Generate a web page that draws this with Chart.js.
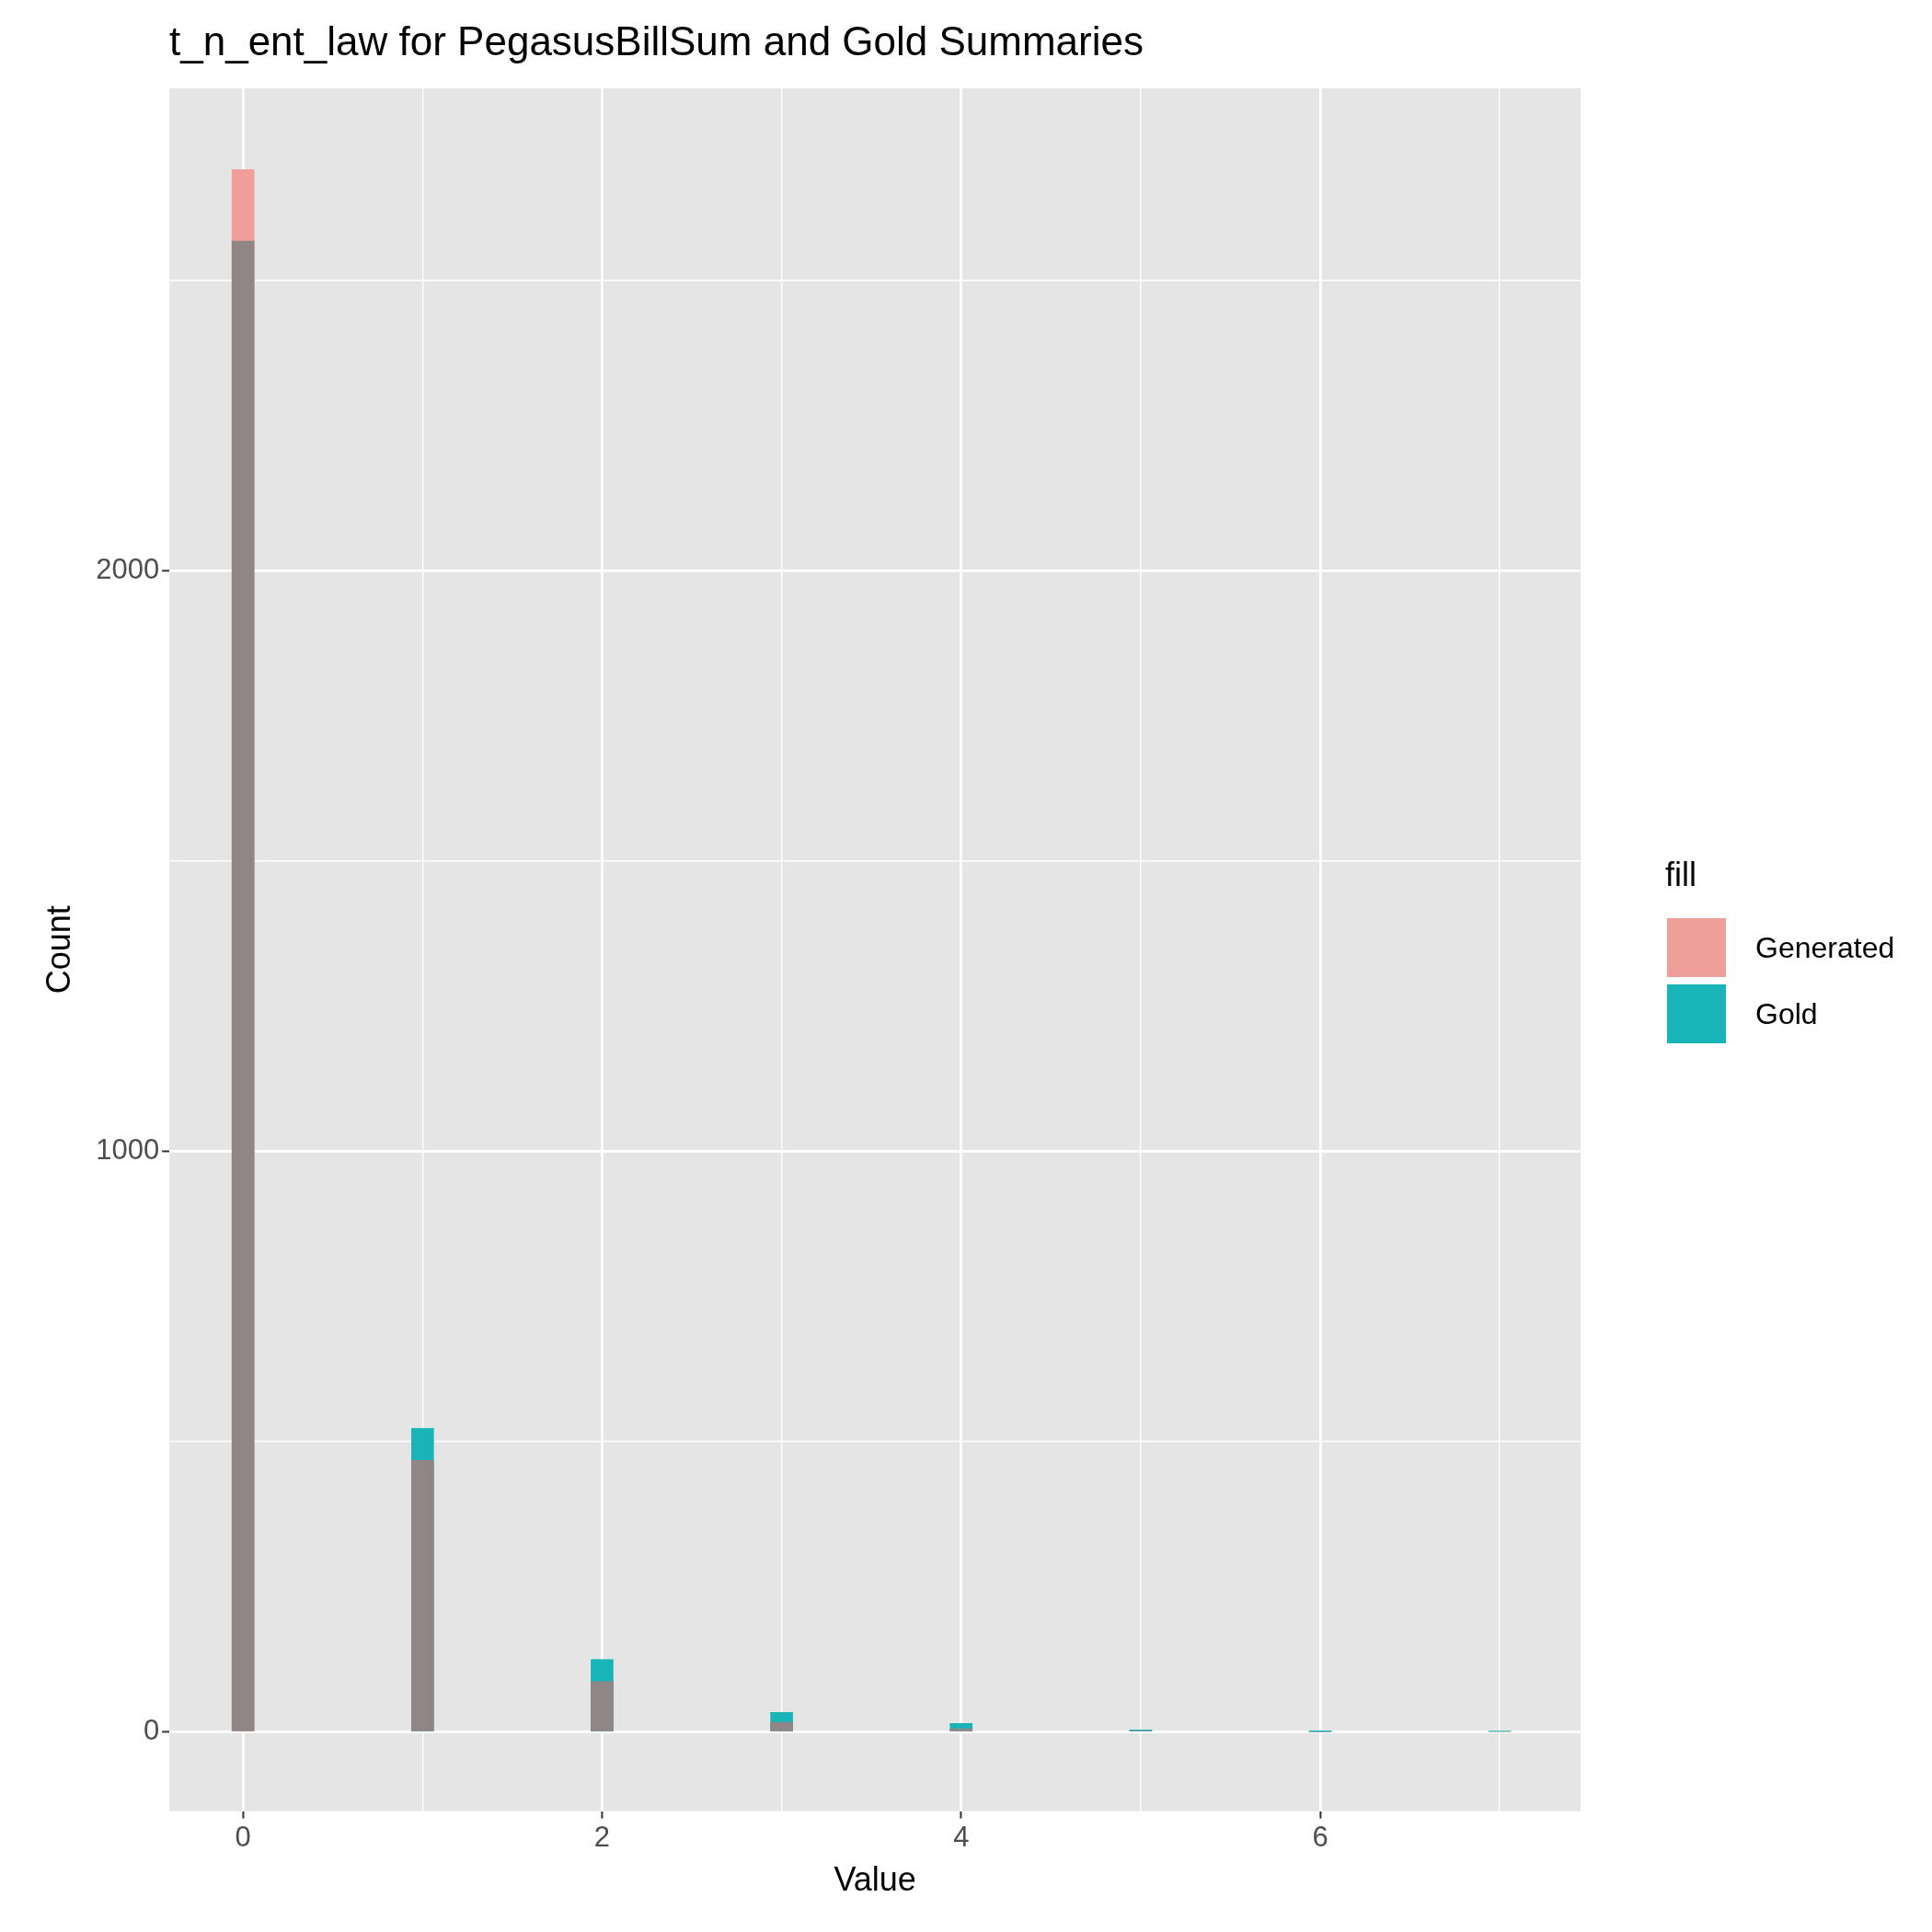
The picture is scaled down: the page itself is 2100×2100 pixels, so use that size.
<!DOCTYPE html>
<html>
<head>
<meta charset="utf-8">
<script src="https://cdn.jsdelivr.net/npm/chart.js@4"></script>
<style>
  body { margin: 0; background: #fff; font-family: "Liberation Sans", Arial, sans-serif; }
  #wrap { position: relative; width: 2100px; height: 2100px; }
  #title { position: absolute; left: 184px; top: 20px; font-size: 44px; color: #000; }
  #legend { position: absolute; left: 1810px; top: 930px; font-size: 32px; color: #000; }
  #legend .head { font-size: 36px; margin-bottom: 22px; }
  #legend .row { display: flex; align-items: center; height: 72px; }
  #legend .key { width: 68px; height: 68px; margin-right: 30px; box-sizing: border-box; border: 2px solid #fff; }
  canvas { position: absolute; left: 0; top: 0; }
</style>
</head>
<body>
<div id="wrap">
  <canvas id="chart" width="2100" height="2100"></canvas>
  <div id="title">t_n_ent_law for PegasusBillSum and Gold Summaries</div>
  <div id="legend">
    <div class="head">fill</div>
    <div class="row"><div class="key" style="background:#EF9F9A"></div>Generated</div>
    <div class="row"><div class="key" style="background:#19B4B8"></div>Gold</div>
  </div>
</div>
<script>
var values = [0, 1, 2, 3, 4, 5, 6, 7];
var generated = [2691, 468, 87, 17, 6, 2, 0, 0];
var gold = [2568, 523, 125, 34, 15, 4, 1, 2];

var genColor = "#EF9F9A";
var goldColor = "#19B4B8";
var overlapColor = "#8F8685";

var topBars = [], topColors = [], overlapBars = [];
for (var i = 0; i < values.length; i++) {
    var g = generated[i], d = gold[i];
    topBars.push({ x: values[i], y: Math.max(g, d) });
    topColors.push(g > d ? genColor : goldColor);
    overlapBars.push({ x: values[i], y: Math.min(g, d) });
}

var isMajorX = function (v) { return v % 2 === 0; };
var isMajorY = function (v) { return v % 1000 === 0; };

new Chart(document.getElementById("chart"), {
    type: "bar",
    data: {
        datasets: [
            { label: "overlap", data: overlapBars, backgroundColor: overlapColor, barThickness: 24, grouped: false, order: 1 },
            { label: "top", data: topBars, backgroundColor: topColors, barThickness: 24, grouped: false, order: 2 }
        ]
    },
    options: {
        responsive: false,
        devicePixelRatio: 1,
        animation: false,
        layout: { padding: { top: 96, right: 382, bottom: 29, left: 40 } },
        plugins: { legend: { display: false }, tooltip: { enabled: false } },
        scales: {
            x: {
                type: "linear",
                offset: false,
                min: -0.41, max: 7.45,
                afterBuildTicks: function (axis) {
                    axis.ticks = values.map(function (v) { return { value: v }; });
                },
                ticks: {
                    autoSkip: false, color: "#4D4D4D", font: { size: 31, family: "Liberation Sans" },
                    callback: function (v) { return isMajorX(v) ? v : ""; }
                },
                grid: {
                    color: "#FFFFFF",
                    lineWidth: function (c) { return c.tick && isMajorX(c.tick.value) ? 2.8 : 1.4; },
                    tickColor: function (c) { return c.tick && isMajorX(c.tick.value) ? "#333333" : "rgba(0,0,0,0)"; },
                    tickLength: 8, tickWidth: 2, offset: false
                },
                border: { display: false },
                title: { display: true, text: "Value", color: "#000", font: { size: 36, family: "Liberation Sans" }, padding: { top: 4 } }
            },
            y: {
                type: "linear",
                min: -136, max: 2831,
                afterBuildTicks: function (axis) {
                    axis.ticks = [0, 500, 1000, 1500, 2000, 2500].map(function (v) { return { value: v }; });
                },
                ticks: {
                    autoSkip: false, color: "#4D4D4D", font: { size: 31, family: "Liberation Sans" },
                    callback: function (v) { return isMajorY(v) ? v : ""; }
                },
                grid: {
                    color: "#FFFFFF",
                    lineWidth: function (c) { return c.tick && isMajorY(c.tick.value) ? 2.8 : 1.4; },
                    tickColor: function (c) { return c.tick && isMajorY(c.tick.value) ? "#333333" : "rgba(0,0,0,0)"; },
                    tickLength: 8, tickWidth: 2
                },
                border: { display: false },
                title: { display: true, text: "Count", color: "#000", font: { size: 36, family: "Liberation Sans" }, padding: { bottom: 14 } }
            }
        }
    },
    plugins: [{
        id: "panelBg",
        beforeDraw: function (chart) {
            var a = chart.chartArea, ctx = chart.ctx;
            ctx.save();
            ctx.fillStyle = "#E5E5E5";
            ctx.fillRect(a.left, a.top, a.right - a.left, a.bottom - a.top);
            ctx.restore();
        }
    }]
});
</script>
</body>
</html>
